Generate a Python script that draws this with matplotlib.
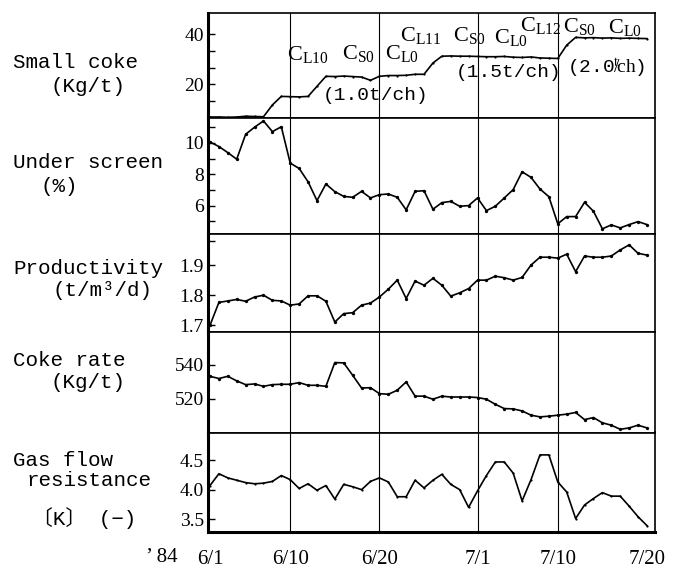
import matplotlib
matplotlib.use("Agg")
import matplotlib.pyplot as plt
from matplotlib.ticker import FixedLocator

# =========================
# DATA (daily values, 6/1 -> 7/20, 1984)
# =========================
days = list(range(50))
date_ticks = [0, 9, 19, 30, 39, 49]
date_labels = ["6/1", "6/10", "6/20", "7/1", "7/10", "7/20"]
grid_days = [9, 19, 30, 39]

small_coke = [7.0, 7.0, 6.9, 7.0, 7.3, 7.2, 7.1, 11.8, 15.2, 15.1,
              15.0, 15.2, 19.2, 23.2, 23.1, 23.3, 23.1, 22.9, 21.6, 23.2,
              23.5, 23.5, 23.6, 24.0, 24.0, 28.5, 31.2, 31.3, 31.2, 31.2,
              31.1, 31.0, 31.0, 31.1, 30.8, 30.7, 30.9, 30.5, 30.4, 30.3,
              35.6, 38.7, 38.5, 38.6, 38.4, 38.5, 38.3, 38.4, 38.3, 38.2]

under_screen = [10.06, 9.77, 9.38, 8.96, 10.55, 11.0, 11.4, 10.72, 11.03, 8.71,
                8.37, 7.52, 6.32, 7.38, 6.89, 6.59, 6.53, 6.91, 6.49, 6.70,
                6.74, 6.53, 5.73, 6.91, 6.95, 5.77, 6.19, 6.27, 5.96, 6.00,
                6.49, 5.68, 5.96, 6.49, 7.02, 8.16, 7.80, 7.06, 6.57, 4.84,
                5.30, 5.30, 6.21, 5.64, 4.52, 4.77, 4.58, 4.79, 4.98, 4.79]

productivity = [1.700, 1.776, 1.781, 1.786, 1.780, 1.794, 1.800, 1.783, 1.781, 1.767,
                1.771, 1.798, 1.798, 1.780, 1.711, 1.739, 1.742, 1.767, 1.774, 1.794,
                1.820, 1.850, 1.789, 1.847, 1.833, 1.856, 1.833, 1.797, 1.808, 1.822,
                1.850, 1.850, 1.863, 1.858, 1.850, 1.859, 1.900, 1.926, 1.926, 1.923,
                1.936, 1.878, 1.930, 1.926, 1.926, 1.930, 1.950, 1.967, 1.939, 1.933]

coke_rate = [533.1, 531.8, 533.1, 530.4, 528.2, 528.6, 527.2, 528.2, 528.4, 528.4,
             529.4, 527.8, 527.8, 527.2, 541.2, 541.0, 533.7, 526.2, 526.4, 522.9,
             522.5, 524.9, 529.8, 521.4, 521.4, 519.6, 521.4, 520.9, 520.9, 520.9,
             520.6, 519.6, 516.6, 514.1, 513.9, 512.7, 510.2, 509.2, 509.6, 510.2,
             510.8, 511.8, 507.6, 508.8, 505.7, 504.3, 501.9, 502.7, 504.3, 502.7]

gas_flow = [4.07, 4.27, 4.20, 4.16, 4.12, 4.10, 4.11, 4.14, 4.24, 4.17,
            4.02, 4.10, 3.99, 4.07, 3.84, 4.09, 4.05, 4.00, 4.14, 4.20,
            4.13, 3.88, 3.88, 4.16, 4.03, 4.16, 4.26, 4.09, 4.00, 3.70,
            3.98, 4.24, 4.47, 4.47, 4.28, 3.81, 4.17, 4.59, 4.59, 4.13,
            3.96, 3.51, 3.74, 3.85, 3.95, 3.89, 3.89, 3.72, 3.54, 3.39]

# grade annotations in the top panel: text, day, value
grade_texts = [r"C$_{\rm L10}$", r"C$_{\rm S0}$", r"C$_{\rm L0}$",
               r"C$_{\rm L11}$", r"C$_{\rm S0}$", r"C$_{\rm L0}$",
               r"C$_{\rm L12}$", r"C$_{\rm S0}$", r"C$_{\rm L0}$"]
grade_x = [8.6, 14.8, 19.6, 21.3, 27.2, 31.8, 34.75, 39.6, 44.6]
grade_y = [32.0, 32.4, 32.4, 39.6, 39.6, 38.8, 43.4, 43.2, 42.8]

charge_texts = ["(1.0t/ch)", "(1.5t/ch)", r"(2.0$^{\rm t}\!\!/\!{\rm ch}$)"]
charge_x = [12.6, 27.6, 40.0]
charge_y = [15.4, 24.8, 26.4]

# =========================
# STYLE
# =========================
plt.rcParams["mathtext.fontset"] = "custom"
plt.rcParams["mathtext.rm"] = "Liberation Serif"
plt.rcParams["mathtext.it"] = "Liberation Serif:italic"
MONO = ["Liberation Mono", "Noto Sans CJK JP", "DejaVu Sans"]
SERIF = "Liberation Serif"

W, H = 681, 570
fig = plt.figure(figsize=(W / 100, H / 100), dpi=100)


def px_ax(top, bottom):
    return [208 / W, 1 - bottom / H, (655 - 208) / W, (bottom - top) / H]


panels = [
    (small_coke, (13, 117.5), (6.8, 48.4), [40, 20], ["40", "20"], [33.33, 26.67, 13.33], 1.6),
    (under_screen, (117.5, 234), (4.19, 11.62), [10, 8, 6], ["10", "8", "6"], [11, 9, 7, 5], 2.4),
    (productivity, (234, 332), (1.678, 2.003), [1.9, 1.8, 1.7], ["1.9", "1.8", "1.7"], [1.98], 2.4),
    (coke_rate, (332, 432.5), (500, 559.2), [540, 520], ["540", "520"], [], 2.4),
    (gas_flow, (432.5, 531.5), (3.29, 4.97), [4.5, 4.0, 3.5], ["4.5", "4.0", "3.5"], [], 1.6),
]

axes = []
for i, (vals, (top, bot), ylim, yt, ytl, ymin, ms) in enumerate(panels):
    ax = fig.add_axes(px_ax(top, bot))
    ax.plot(days, vals, color="black", lw=1.2, marker="o", ms=ms,
            markeredgewidth=0, zorder=3)
    for g in grid_days:
        ax.axvline(g, color="black", lw=0.8, zorder=1)
    ax.set_xlim(-0.22, 49.9)
    ax.set_ylim(*ylim)
    ax.set_yticks(yt)
    ax.set_yticklabels(ytl, fontfamily=SERIF, fontsize=14)
    ax.yaxis.set_minor_locator(FixedLocator(ymin))
    ax.tick_params(axis="y", which="both", direction="in", length=5,
                   width=1, pad=3)
    ax.tick_params(axis="x", length=0)
    for s in ax.spines.values():
        s.set_linewidth(1.2)
    ax.spines["left"].set_linewidth(2.2)
    if i < 4:
        ax.set_xticks([])
    axes.append(ax)

# bottom axis date labels
ax5 = axes[-1]
ax5.spines["bottom"].set_linewidth(2.2)
ax5.set_xticks(date_ticks)
ax5.set_xticklabels(date_labels, fontfamily=SERIF, fontsize=15)
ax5.tick_params(axis="x", pad=13)
fig.text(162 / W, 1 - 558 / H, "\u2019 84", fontfamily=SERIF, fontsize=15,
         ha="center", va="center")

# annotations in the top panel
ax1 = axes[0]
for t, x, y in zip(grade_texts, grade_x, grade_y):
    ax1.text(x, y, t, fontfamily=SERIF, fontsize=16, ha="left", va="center")
for t, x, y in zip(charge_texts, charge_x, charge_y):
    ax1.text(x, y, t, fontfamily=MONO, fontsize=14, ha="left", va="center")

# left-hand labels
labels = [
    ("Small coke", 13, 62), ("(Kg/t)", 50, 86),
    ("Under screen", 13, 163), ("(%)", 40, 186),
    ("Productivity", 13, 268), ("(t/m\u00b3/d)", 53, 290),
    ("Coke rate", 13, 360), ("(Kg/t)", 50, 382),
    ("Gas flow", 13, 460), ("resistance", 27, 480),
    ("\u3014K\u3015 (\u2212)", 32, 518),
]
for t, x, y in labels:
    fig.text(x / W, 1 - y / H, t, fontfamily=MONO, fontsize=15,
             ha="left", va="center")

fig.savefig("out.png", dpi=100)
